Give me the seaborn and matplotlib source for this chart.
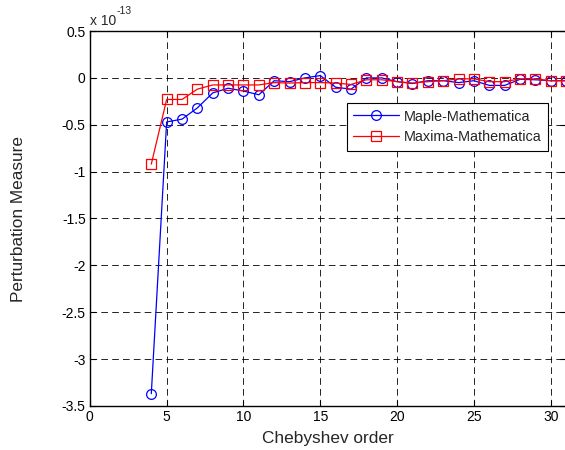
import matplotlib
matplotlib.use("Agg")
import matplotlib.pyplot as plt
import seaborn as sns
import numpy as np

orders = list(range(4, 32))
maple_mathematica = [-3.37, -0.47, -0.44, -0.32, -0.16, -0.11, -0.14, -0.18,
                     -0.03, -0.04, 0.00, 0.025, -0.10, -0.12, 0.00, 0.00,
                     -0.04, -0.06, -0.03, -0.03, -0.05, -0.03, -0.08, -0.08,
                     -0.015, -0.02, -0.03, -0.03]
maxima_mathematica = [-0.92, -0.23, -0.23, -0.12, -0.075, -0.075, -0.075, -0.075,
                      -0.05, -0.055, -0.05, -0.05, -0.055, -0.07, -0.02, -0.02,
                      -0.04, -0.055, -0.04, -0.03, -0.01, -0.01, -0.04, -0.04,
                      -0.01, -0.01, -0.03, -0.03]
xticks = [0, 5, 10, 15, 20, 25, 30]
yticks = [0.5, 0, -0.5, -1, -1.5, -2, -2.5, -3, -3.5]
ytick_labels = ["0.5", "0", "-0.5", "-1", "-1.5", "-2", "-2.5", "-3", "-3.5"]

sns.set_style("white")
plt.rcParams['font.family'] = ['Liberation Sans', 'DejaVu Sans']

fig = plt.figure(figsize=(5.65, 4.5), dpi=100)
ax = fig.add_axes([0.159, 0.098, 0.843, 0.833])

sns.lineplot(x=orders, y=maple_mathematica, ax=ax, color='blue', marker='o',
             markersize=7, markerfacecolor='none', markeredgecolor='blue',
             markeredgewidth=0.9, linewidth=0.9, label='Maple-Mathematica', sort=False)
sns.lineplot(x=orders, y=maxima_mathematica, ax=ax, color='red', marker='s',
             markersize=7, markerfacecolor='none', markeredgecolor='red',
             markeredgewidth=0.9, linewidth=0.9, label='Maxima-Mathematica', sort=False)

ax.set_xlim(0, 31)
ax.set_ylim(-3.5, 0.5)
ax.set_xticks(xticks)
ax.set_xticklabels([str(t) for t in xticks], fontsize=10)
ax.set_yticks(yticks)
ax.set_yticklabels(ytick_labels, fontsize=10)
ax.grid(True, color='black', linestyle=(0, (8, 5)), linewidth=0.6)
ax.tick_params(direction='in', length=4, width=0.8, colors='black', pad=3,
               top=True, right=True, bottom=True, left=True)
for s in ax.spines.values():
    s.set_color('black')
    s.set_linewidth(1.0)
ax.set_xlabel('Chebyshev order', fontsize=12.4, labelpad=5)
ax.set_ylabel('')

fig.text(90 / 565, 1 - 25 / 450, 'x 10', fontsize=10, ha='left', va='baseline')
fig.text(117 / 565, 1 - 14 / 450, '-13', fontsize=7.5, ha='left', va='baseline')
fig.text(0.046, 0.513, 'Perturbation Measure', rotation=90, fontsize=12.4,
         ha='right', va='center')

leg = ax.legend(loc='upper left', bbox_to_anchor=(0.539, 0.808), fontsize=10.4,
                frameon=True, fancybox=False, framealpha=1, edgecolor='black',
                borderpad=0.45, handlelength=3.2, handletextpad=0.3, labelspacing=0.45,
                borderaxespad=0)
leg.get_frame().set_linewidth(0.8)

fig.savefig('out.png', dpi=100)
